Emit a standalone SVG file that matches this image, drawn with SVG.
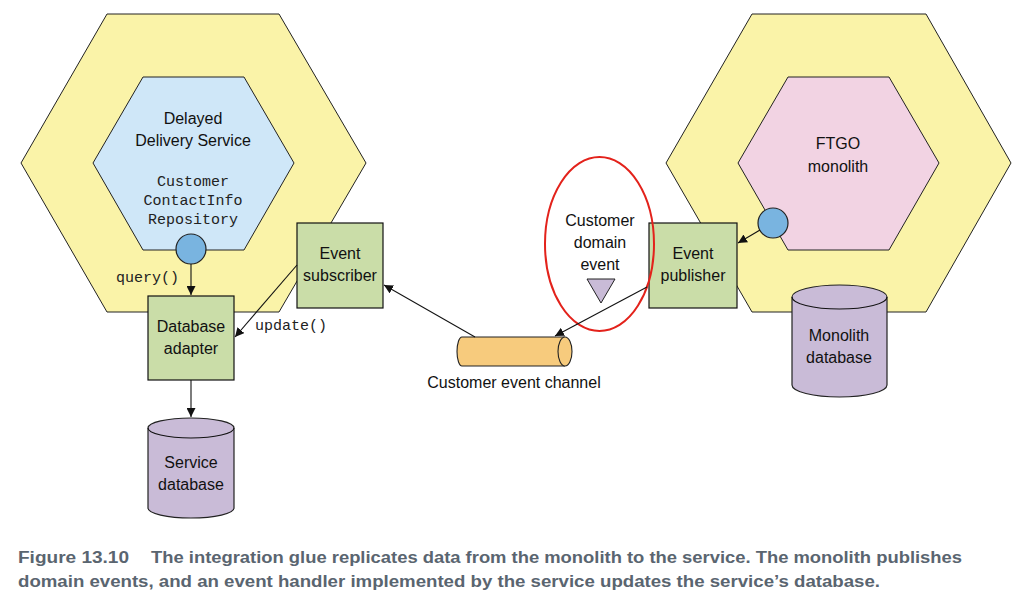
<svg xmlns="http://www.w3.org/2000/svg" width="1025" height="604" viewBox="0 0 1025 604">
<style>
.hexo{fill:#FAF3A8;stroke:#222;stroke-width:1}
.box{fill:#CADDA8;stroke:#111;stroke-width:1.2}
.db{fill:#C9BBD7;stroke:#222;stroke-width:1.2}
.port{fill:#79B4E0;stroke:#222;stroke-width:1.2}
.t{font-family:"Liberation Sans",Arial,sans-serif;font-size:16px;fill:#111;text-anchor:middle}
.m{font-family:"Liberation Mono","Courier New",monospace;font-size:15px;fill:#222}
.c{font-family:"Liberation Sans",Arial,sans-serif;font-size:16px;font-weight:bold;fill:#5A6570}
.ln{fill:none;stroke:#111;stroke-width:1.1}
</style>
<defs>
<marker id="ah" viewBox="0 0 10 10" refX="10" refY="5" markerWidth="9" markerHeight="9" markerUnits="userSpaceOnUse" orient="auto">
<path d="M0,0 L10,5 L0,10 z" fill="#111"/>
</marker>
</defs>
<rect width="1025" height="604" fill="#fff"/>

<g id="service-hex">
<polygon class="hexo" points="107,14 279,14 366,163 279,312 107,312 21,163"/>
<polygon points="143,77 244,77 294,163 244,250 143,250 93,163" fill="#CFE7F8" stroke="#222" stroke-width="1"/>
<text class="t" x="193" y="124">Delayed</text>
<text class="t" x="193" y="146">Delivery Service</text>
<text class="m" x="193" y="186" text-anchor="middle">Customer</text>
<text class="m" x="193" y="205" text-anchor="middle">ContactInfo</text>
<text class="m" x="193" y="224" text-anchor="middle">Repository</text>
<circle class="port" cx="191" cy="249" r="15"/>
</g>

<g id="monolith-hex">
<polygon class="hexo" points="752,14 926,14 1011,163 926,312 752,312 666,163"/>
<polygon points="788,77 889,77 939,163 889,250 788,250 738,163" fill="#F2D3E3" stroke="#222" stroke-width="1"/>
<text class="t" x="838" y="149">FTGO</text>
<text class="t" x="838" y="172">monolith</text>
<circle class="port" cx="773" cy="223" r="15"/>
</g>

<g id="database-adapter">
<rect class="box" x="148" y="296" width="86" height="84"/>
<text class="t" x="191" y="332">Database</text>
<text class="t" x="191" y="354">adapter</text>
</g>

<g id="event-subscriber">
<rect class="box" x="297" y="223" width="86" height="85"/>
<text class="t" x="340" y="259">Event</text>
<text class="t" x="340" y="281">subscriber</text>
</g>

<g id="event-publisher">
<rect class="box" x="649" y="223" width="88" height="85"/>
<text class="t" x="693" y="259">Event</text>
<text class="t" x="693" y="281">publisher</text>
</g>

<g id="service-database">
<path class="db" d="M148,428 A43,10 0 0 1 234,428 L234,508 A43,10 0 0 1 148,508 Z"/>
<path class="ln" d="M148,428 A43,10 0 0 0 234,428" stroke="#222"/>
<text class="t" x="191" y="468">Service</text>
<text class="t" x="191" y="490">database</text>
</g>

<g id="monolith-database">
<path class="db" d="M792,297 A47.5,12 0 0 1 887,297 L887,385 A47.5,12 0 0 1 792,385 Z"/>
<path class="ln" d="M792,297 A47.5,12 0 0 0 887,297" stroke="#222"/>
<text class="t" x="839" y="341">Monolith</text>
<text class="t" x="839" y="363">database</text>
</g>

<g id="customer-event-channel">
<path d="M565,337 L462,337 A5,14.5 0 0 0 462,366 L565,366" fill="#F7CB7D" stroke="#222" stroke-width="1.1"/>
<ellipse cx="565" cy="351.5" rx="7" ry="14.5" fill="#F7CB7D" stroke="#222" stroke-width="1.1"/>
<text class="t" x="514" y="388">Customer event channel</text>
</g>

<g id="customer-domain-event">
<ellipse cx="599.5" cy="244" rx="54.5" ry="87" fill="none" stroke="#E3221B" stroke-width="2"/>
<text class="t" x="600" y="226">Customer</text>
<text class="t" x="600" y="248">domain</text>
<text class="t" x="600" y="270">event</text>
<polygon points="587,279 615,279 601,303" fill="#C9BBD7" stroke="#222" stroke-width="1"/>
</g>

<g id="connectors">
<line class="ln" x1="191" y1="264" x2="191" y2="295" marker-end="url(#ah)"/>
<text class="m" x="116" y="282">query()</text>
<line class="ln" x1="297" y1="265" x2="235" y2="337" marker-end="url(#ah)"/>
<text class="m" x="255" y="330">update()</text>
<line class="ln" x1="191" y1="380" x2="191" y2="417" marker-end="url(#ah)"/>
<line class="ln" x1="475" y1="337" x2="384" y2="285" marker-end="url(#ah)"/>
<line class="ln" x1="647" y1="287" x2="555" y2="336" marker-end="url(#ah)"/>
<line class="ln" x1="760" y1="230" x2="738" y2="243" marker-end="url(#ah)"/>
</g>

<g id="caption">
<text class="c" x="18" y="563" textLength="111" lengthAdjust="spacingAndGlyphs" fill="#4F5862">Figure 13.10</text>
<text class="c" x="151" y="563" textLength="811" lengthAdjust="spacingAndGlyphs">The integration glue replicates data from the monolith to the service. The monolith publishes</text>
<text class="c" x="18" y="587" textLength="862" lengthAdjust="spacingAndGlyphs">domain events, and an event handler implemented by the service updates the service’s database.</text>
</g>
</svg>
